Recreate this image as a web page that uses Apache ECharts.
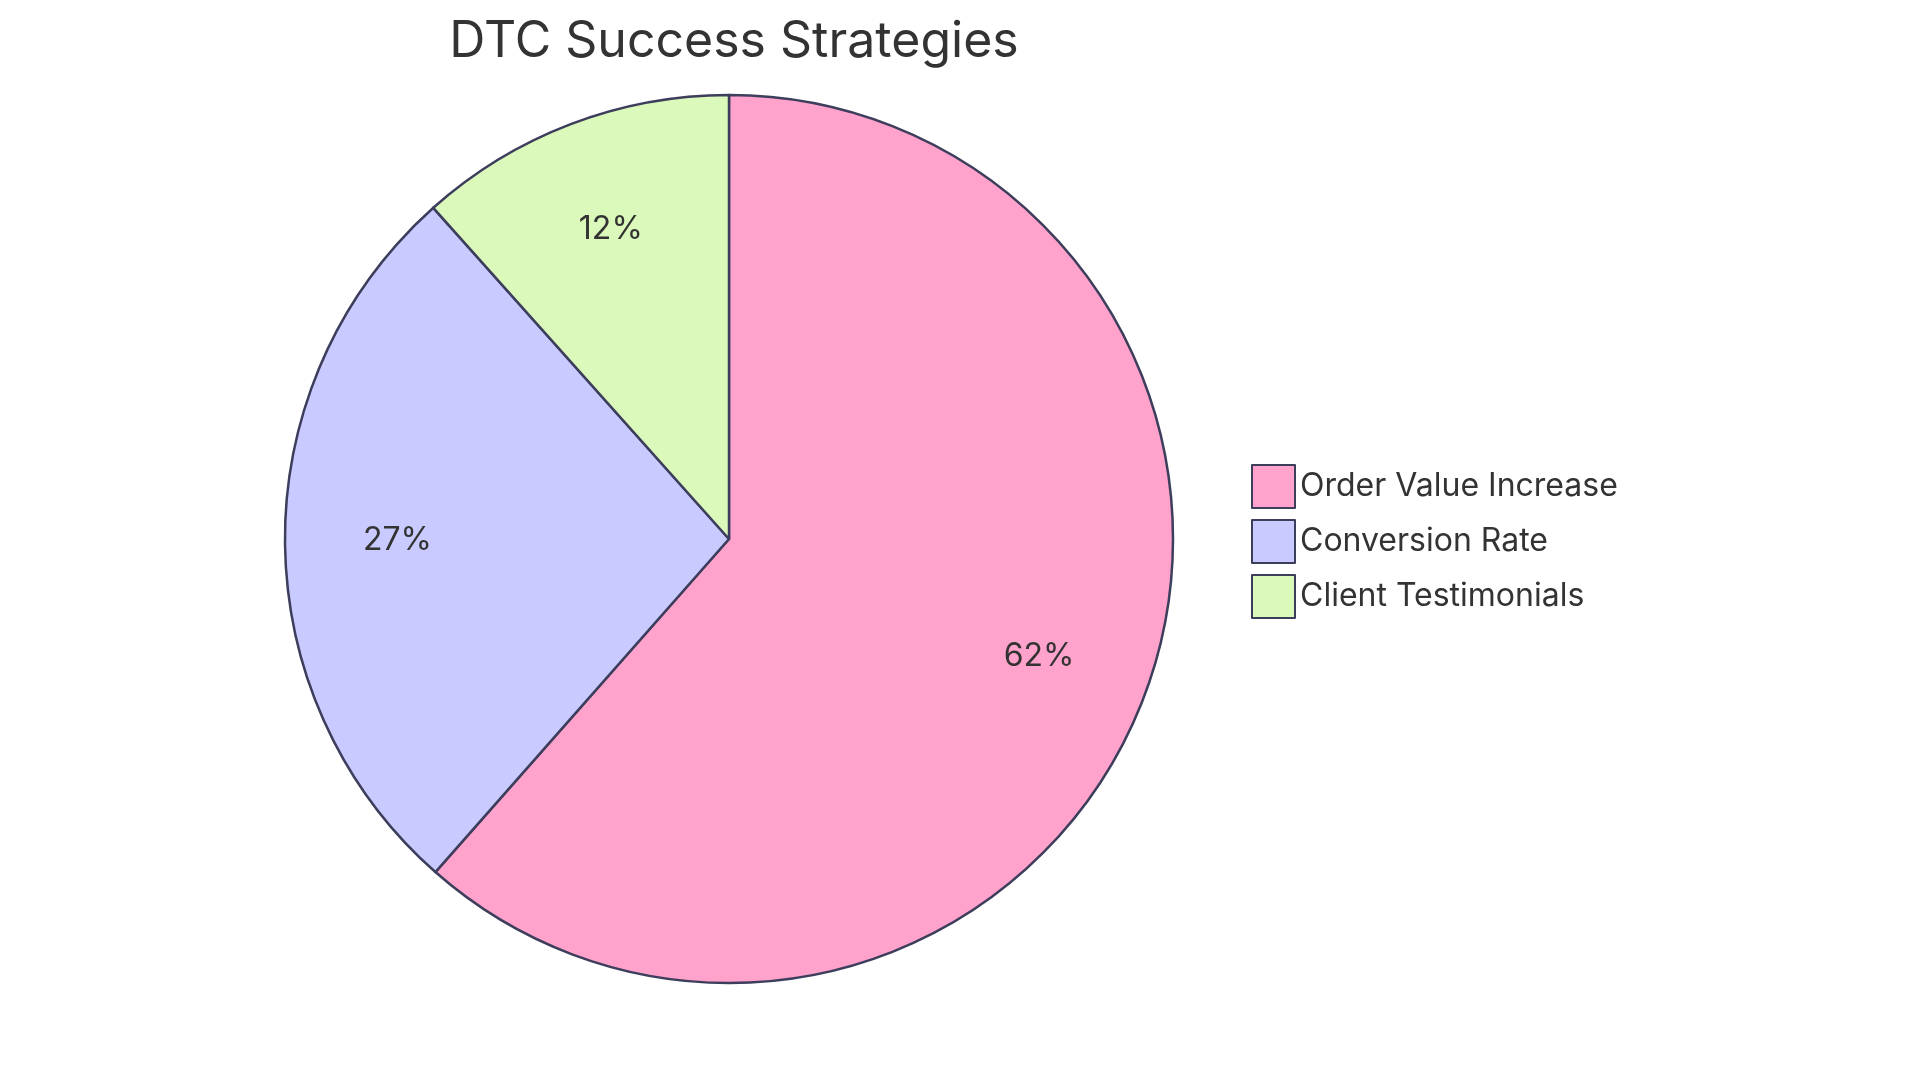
<!DOCTYPE html>
<html><head><meta charset="utf-8">
<script src="https://cdn.jsdelivr.net/npm/echarts@6/dist/echarts.min.js"></script>
<style>html,body{margin:0;padding:0;background:#fff}#c{width:1920px;height:1083px}</style>
</head><body><div id="c"></div>
<script>
const categories = ["Order Value Increase", "Conversion Rate", "Client Testimonials"];
const values = [61.5, 26.9, 11.6];
const colors = ["#FFA3CC", "#C9CAFF", "#DBF9BA"];
const data = categories.map((n, i) => ({ name: n, value: values[i], itemStyle: { color: colors[i] } }));
const font = "Inter, 'Open Sans', sans-serif";
const chart = echarts.init(document.getElementById('c'));
const center = [729, 539], R = 444;
chart.setOption({
  animation: false,
  title: { text: "DTC Success Strategies", left: 729, top: 12, textAlign: 'center',
    textStyle: { fontFamily: font, fontSize: 50, fontWeight: 'normal', color: '#333' } },
  legend: { orient: 'vertical', left: 1246, top: 459, itemWidth: 43, itemHeight: 43, itemGap: 10,
    icon: 'rect', data: categories,
    textStyle: { fontFamily: font, fontSize: 32, color: '#333', padding: [0, 0, 0, 0] } },
  series: [
    { type: 'pie', radius: R, center, startAngle: 90, clockwise: true, data,
      label: { show: false }, labelLine: { show: false },
      itemStyle: { borderColor: '#3d3d5c', borderWidth: 2.5 }, emphasis: { disabled: true } },
    { type: 'pie', radius: [R * 0.48, R], center, startAngle: 90, clockwise: true, silent: true,
      data: data.map(d => ({ name: d.name, value: d.value, itemStyle: { color: 'transparent' } })),
      itemStyle: { borderWidth: 0 },
      label: { show: true, position: 'inside', fontFamily: font, fontSize: 32, color: '#333',
        formatter: p => Math.round(p.value) + '%' },
      labelLine: { show: false }, emphasis: { disabled: true } }
  ]
});
</script></body></html>
